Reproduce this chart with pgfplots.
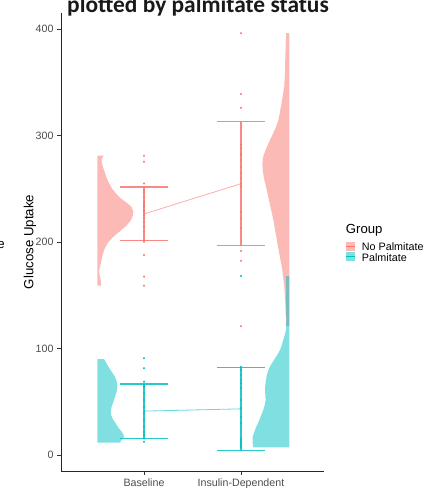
\documentclass[border=0pt]{standalone}
\usepackage{fontspec}
\setmainfont{Liberation Sans}
\newfontfamily\titlefont{Carlito}
\usepackage{pgfplots}
\pgfplotsset{compat=1.18}
\definecolor{npal}{HTML}{F8766D}
\definecolor{pal}{HTML}{00BFC4}
\definecolor{tickgray}{HTML}{4D4D4D}
\pgfplotsset{
  obs/.style={only marks, mark=*, mark size=0.85bp, color=#1,
    mark options={draw=none, fill=#1, fill opacity=0.6}},
  sdbar/.style={color=#1, opacity=0.85, line width=1.1bp},
}

\begin{document}
\begin{tikzpicture}
\begin{axis}[
  scale only axis, width=263bp, height=458bp,
  xmin=0.144, xmax=2.856, ymin=-15, ymax=415,
  axis x line*=bottom, axis y line*=left,
  axis line style={-, line width=0.9bp, black!85},
  xtick={1,2}, xticklabels={Baseline, Insulin-Dependent},
  ytick={0,100,200,300,400},
  tick align=outside, major tick length=4bp,
  tick style={line width=0.7bp, black!80},
  tick label style={font=\fontsize{10.7}{12}\selectfont, text=tickgray},
  /pgf/number format/assume math mode=true,
  ylabel={Glucose Uptake},
  ylabel style={at={(axis description cs:-0.118,0.5)}, anchor=center,
    font=\fontsize{13.3}{15}\selectfont},
  clip=false,
]
% half violins
\addplot[draw=none, fill=npal, fill opacity=0.5] coordinates {
 (0.519,159) (0.557,159) (0.556,163) (0.545,168) (0.537,172) (0.543,176)
 (0.555,180) (0.565,185) (0.580,190) (0.600,195) (0.633,200) (0.685,205)
 (0.750,210) (0.815,215) (0.862,220) (0.886,225) (0.888,229) (0.870,233)
 (0.820,237) (0.760,241) (0.715,245) (0.672,250) (0.640,255) (0.615,260)
 (0.597,265) (0.578,270) (0.566,274) (0.563,277) (0.570,279) (0.585,281)
 (0.519,281)} -- cycle;
\addplot[draw=none, fill=pal, fill opacity=0.5] coordinates {
 (0.519,11.6) (0.753,11.6) (0.770,14.1) (0.797,17.2) (0.770,21.9) (0.735,25.7)
 (0.708,29.7) (0.679,33.6) (0.660,37.6) (0.658,41.5) (0.666,45.4) (0.684,50)
 (0.701,54.8) (0.718,59.4) (0.725,64) (0.720,68.7) (0.701,73.5) (0.668,78)
 (0.632,83) (0.607,87) (0.588,90) (0.519,90)} -- cycle;
\addplot[draw=none, fill=npal, fill opacity=0.5] coordinates {
 (2.498,121) (2.464,121) (2.464,124) (2.457,142) (2.446,158) (2.426,174)
 (2.395,189) (2.364,205) (2.333,221) (2.297,236) (2.258,252) (2.236,260)
 (2.226,266) (2.221,272) (2.223,277) (2.232,281) (2.248,285) (2.275,291)
 (2.305,297) (2.337,303) (2.365,309) (2.387,315) (2.418,330) (2.446,346)
 (2.454,362) (2.459,380) (2.464,396) (2.498,396)} -- cycle;
\addplot[draw=none, fill=pal, fill opacity=0.5] coordinates {
 (2.498,7.2) (2.127,7.2) (2.120,11) (2.120,17.2) (2.144,23.5) (2.165,28)
 (2.189,32.9) (2.209,37.6) (2.230,42.3) (2.245,47) (2.254,51.6) (2.251,56)
 (2.248,61) (2.251,66) (2.258,70.4) (2.266,75) (2.282,79.8) (2.307,84.5)
 (2.340,89.2) (2.374,94) (2.402,98.6) (2.421,103) (2.436,108) (2.452,113)
 (2.464,117.4) (2.467,126.8) (2.465,145) (2.464,168) (2.498,168)} -- cycle;

% raw observations
\addplot[obs=npal] coordinates {
 (1,281) (1,275.4) (1,255) (1,248) (1,245.7) (1,242.5) (1,237.9) (1,234.7)
 (1,233) (1,230) (1,228.5) (1,225.4) (1,222.2) (1,219) (1,214.4) (1,209.7)
 (1,200.3) (1,187.8) (1,167.5) (1,159)};
\addplot[obs=pal] coordinates {
 (1,90.8) (1,81.4) (1,68.9) (1,64.2) (1,57.9) (1,51.6) (1,45.4) (1,39.2)
 (1,32.9) (1,26.6) (1,21.9) (1,18.8) (1,15.7) (1,12.5)};
\addplot[obs=npal] coordinates {
 (2,396) (2,339) (2,326) (2,291) (2,288) (2,283) (2,281.7) (2,277) (2,270.7)
 (2,264.5) (2,259.8) (2,255) (2,252) (2,228.5) (2,222) (2,212.9) (2,191.5)
 (2,182.4) (2,121)};
\addplot[obs=pal] coordinates {
 (2,168) (2,82.9) (2,79.8) (2,75.1) (2,70.4) (2,67.3) (2,62.6) (2,51.6)
 (2,43.8) (2,36) (2,29.8) (2,15.7) (2,14.1) (2,12.5) (2,11) (2,9.4) (2,7.8)};

% mean lines
\addplot[npal, opacity=0.6, line width=0.8bp] coordinates {(1,226.3) (2,254.75)};
\addplot[pal, opacity=0.6, line width=0.8bp] coordinates {(1,41.2) (2,43.35)};

% mean +/- sd
\addplot[sdbar=npal] coordinates {(1,201) (1,251.6)};
\addplot[sdbar=npal] coordinates {(0.753,251.6) (1.247,251.6)};
\addplot[sdbar=npal] coordinates {(0.753,201) (1.247,201)};
\addplot[sdbar=npal] coordinates {(2,196.5) (2,313)};
\addplot[sdbar=npal] coordinates {(1.753,313) (2.247,313)};
\addplot[sdbar=npal] coordinates {(1.753,196.5) (2.247,196.5)};
\addplot[sdbar=pal] coordinates {(1,15.7) (1,66.7)};
\addplot[sdbar=pal] coordinates {(0.753,66.7) (1.247,66.7)};
\addplot[sdbar=pal] coordinates {(0.753,15.7) (1.247,15.7)};
\addplot[sdbar=pal] coordinates {(2,4.4) (2,82.3)};
\addplot[sdbar=pal] coordinates {(1.753,82.3) (2.247,82.3)};
\addplot[sdbar=pal] coordinates {(1.753,4.4) (2.247,4.4)};
\end{axis}

\begin{scope}[x=1bp,y=1bp]
% title
\node[anchor=base west, inner sep=0, text=black!90] at (6,458.7)
  {\titlefont\bfseries\fontsize{23.5}{26}\selectfont plotted by palmitate status};
% letter from the neighbouring panel
\node[anchor=base east, inner sep=0] at (-56,222.7) {\fontsize{13.3}{15}\selectfont e};

% legend
\node[anchor=west, inner sep=0] at (284.7,240.3) {\fontsize{13.2}{15}\selectfont Group};
\fill[npal, fill opacity=0.5] (284.7,220.3) rectangle (294,229.3);
\draw[npal, line width=0.6bp] (284.7,224.8) -- (294,224.8);
\fill[pal, fill opacity=0.5] (284.7,210) rectangle (294,219.3);
\draw[pal, line width=0.6bp] (284.7,214.6) -- (294,214.6);
\node[anchor=west, inner sep=0] at (300.7,224) {\fontsize{10.8}{12}\selectfont No Palmitate};
\node[anchor=west, inner sep=0] at (300.7,213.5) {\fontsize{10.8}{12}\selectfont Palmitate};

\pgfresetboundingbox
\useasboundingbox (-61,-17) rectangle (372,471);
\end{scope}
\end{tikzpicture}
\end{document}
